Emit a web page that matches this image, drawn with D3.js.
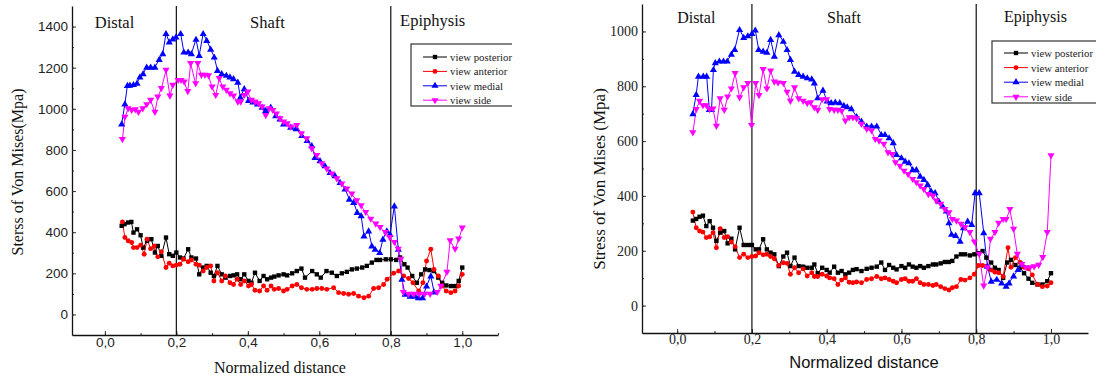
<!DOCTYPE html>
<html>
<head>
<meta charset="utf-8">
<script src="https://cdn.jsdelivr.net/npm/d3@7"></script>
<style>
  body { margin: 0; background: #fff; }
</style>
</head>
<body>
<div id="chart"></div>
<script>
// series shown in both panels
const seriesNames = ['view posterior', 'view anterior', 'view medial', 'view side'];
const seriesColors = ['#000000', '#ff0000', '#0000ff', '#ff00ff'];
const regionNames = ['Distal', 'Shaft', 'Epiphysis'];
const regionBounds = [0.2, 0.8];
const xTickValues = [0, 0.2, 0.4, 0.6, 0.8, 1.0];
const xTickLabels = ['0,0', '0,2', '0,4', '0,6', '0,8', '1,0'];
const leftYTicks = [0, 200, 400, 600, 800, 1000, 1200, 1400];
const rightYTicks = [0, 200, 400, 600, 800, 1000];

// left panel: [normalized distance, stress]
const leftPosterior = [[.047,431],[.055,439],[.065,447],[.074,450],[.08,398],[.09,414],[.1,385],[.107,325],[.118,358],[.13,366],[.14,301],[.148,333],[.158,285],[.171,374],[.18,293],[.19,285],[.2,301],[.21,277],[.22,272],[.233,317],[.242,277],[.255,272],[.264,195],[.275,228],[.285,236],[.296,203],[.305,187],[.315,236],[.327,195],[.337,179],[.35,187],[.36,190],[.37,195],[.38,171],[.39,195],[.402,163],[.41,154],[.42,203],[.433,163],[.444,187],[.454,171],[.465,179],[.474,184],[.486,190],[.5,195],[.51,190],[.524,200],[.537,211],[.55,223],[.56,179],[.58,211],[.593,195],[.604,179],[.62,211],[.635,203],[.649,187],[.663,200],[.677,207],[.691,219],[.705,223],[.72,228],[.733,236],[.747,252],[.76,265],[.77,265],[.786,268],[.8,268],[.815,265],[.826,277],[.838,244],[.847,228],[.86,187],[.873,154],[.885,195],[.896,219],[.908,216],[.92,211],[.933,179],[.944,154],[.955,141],[.968,138],[.98,138],[.99,163],[1.0,228]];
const leftAnterior = [[.049,450],[.056,374],[.065,358],[.075,350],[.08,325],[.09,325],[.1,337],[.11,293],[.118,366],[.128,320],[.138,333],[.148,280],[.158,305],[.171,228],[.18,249],[.19,236],[.2,240],[.21,244],[.22,268],[.233,256],[.242,265],[.255,244],[.264,240],[.275,211],[.285,228],[.296,236],[.305,163],[.315,203],[.327,163],[.337,187],[.35,154],[.36,146],[.37,171],[.38,146],[.39,163],[.402,138],[.41,146],[.42,118],[.433,114],[.444,138],[.454,118],[.465,138],[.474,122],[.486,126],[.5,114],[.51,122],[.524,138],[.537,146],[.55,130],[.565,122],[.58,122],[.593,126],[.607,126],[.621,122],[.64,130],[.654,106],[.668,102],[.682,98],[.696,102],[.71,89],[.725,81],[.738,89],[.752,126],[.766,130],[.78,146],[.79,171],[.808,200],[.822,211],[.836,187],[.85,175],[.862,154],[.878,114],[.89,154],[.9,260],[.912,317],[.921,219],[.933,187],[.943,138],[.955,114],[.968,106],[.98,114],[.99,138],[1.0,195]];
const leftMedial = [[.047,927],[.056,1024],[.063,1114],[.07,1115],[.08,1118],[.09,1125],[.098,1155],[.107,1171],[.117,1203],[.128,1203],[.14,1203],[.152,1240],[.162,1268],[.171,1366],[.18,1325],[.19,1340],[.199,1350],[.212,1366],[.221,1276],[.233,1276],[.242,1268],[.255,1338],[.264,1260],[.275,1366],[.285,1333],[.296,1290],[.306,1252],[.315,1187],[.327,1171],[.34,1163],[.35,1155],[.36,1147],[.372,1130],[.379,1057],[.39,1098],[.402,1041],[.414,1033],[.427,1024],[.44,1008],[.45,992],[.464,1008],[.478,967],[.49,951],[.5,927],[.52,911],[.535,903],[.551,870],[.566,846],[.579,821],[.588,764],[.602,748],[.616,723],[.63,691],[.644,675],[.658,642],[.672,610],[.684,561],[.696,545],[.706,496],[.717,480],[.725,382],[.738,406],[.747,333],[.756,317],[.769,301],[.778,366],[.789,406],[.798,390],[.81,528],[.821,317],[.831,171],[.84,98],[.854,89],[.868,89],[.877,81],[.889,81],[.9,138],[.912,187],[.921,110]];
const leftSide = [[.049,850],[.056,959],[.065,1000],[.075,992],[.085,995],[.094,983],[.106,1000],[.117,1020],[.128,1041],[.14,983],[.148,1057],[.158,1098],[.171,1187],[.182,1062],[.19,1114],[.205,1138],[.213,1138],[.222,1130],[.232,1084],[.24,1220],[.254,1122],[.26,1220],[.27,1163],[.28,1163],[.29,1160],[.3,1106],[.31,1065],[.32,1147],[.33,1106],[.34,1090],[.35,1073],[.36,1062],[.372,1033],[.38,1033],[.39,1065],[.4,1081],[.41,1041],[.42,1033],[.43,1024],[.44,1008],[.45,967],[.46,1000],[.47,992],[.48,975],[.49,951],[.5,935],[.51,927],[.52,911],[.537,919],[.55,878],[.565,854],[.579,805],[.593,773],[.607,732],[.621,707],[.635,683],[.649,659],[.663,634],[.677,610],[.691,585],[.705,553],[.717,528],[.73,496],[.744,463],[.758,439],[.77,423],[.785,398],[.797,374],[.81,350],[.821,317],[.828,268],[.835,107],[.85,98],[.865,98],[.88,98],[.895,98],[.91,98],[.93,107],[.94,137],[.957,205],[.966,358],[.98,317],[.99,366],[1.0,420]];

// right panel
const rightPosterior = [[.042,310],[.051,316],[.06,324],[.069,328],[.078,290],[.087,308],[.096,284],[.105,236],[.115,266],[.126,272],[.135,227],[.145,244],[.155,205],[.167,284],[.178,221],[.189,221],[.2,221],[.21,205],[.219,205],[.23,242],[.24,205],[.25,193],[.26,187],[.272,144],[.284,179],[.294,193],[.303,144],[.314,175],[.325,144],[.337,142],[.348,138],[.36,138],[.367,150],[.376,118],[.388,138],[.4,130],[.408,120],[.42,142],[.43,120],[.44,126],[.45,114],[.46,120],[.47,130],[.48,133],[.493,126],[.507,134],[.52,138],[.534,142],[.546,157],[.556,130],[.567,148],[.578,138],[.587,132],[.6,144],[.61,138],[.62,150],[.63,142],[.64,138],[.65,144],[.66,138],[.672,144],[.684,150],[.693,150],[.705,154],[.716,159],[.727,159],[.736,163],[.747,179],[.759,187],[.77,187],[.783,183],[.795,187],[.806,191],[.817,199],[.827,175],[.84,157],[.85,138],[.86,130],[.872,101],[.883,157],[.893,167],[.905,148],[.917,138],[.928,118],[.94,98],[.95,83],[.964,77],[.977,77],[.99,89],[1.0,118]];
const rightAnterior = [[.042,341],[.051,284],[.06,272],[.069,268],[.078,248],[.087,251],[.096,266],[.105,211],[.115,280],[.126,248],[.135,251],[.145,232],[.155,215],[.167,175],[.178,187],[.189,175],[.2,179],[.21,181],[.219,193],[.23,185],[.24,187],[.25,179],[.26,171],[.272,146],[.284,156],[.294,154],[.303,114],[.314,138],[.325,120],[.337,134],[.348,108],[.36,120],[.367,106],[.376,106],[.388,114],[.4,108],[.408,101],[.42,98],[.43,77],[.44,93],[.45,101],[.46,85],[.47,83],[.48,86],[.493,83],[.507,95],[.52,98],[.534,106],[.546,98],[.556,101],[.567,95],[.578,89],[.587,83],[.6,95],[.61,98],[.62,89],[.63,89],[.64,98],[.65,83],[.66,77],[.672,77],[.684,73],[.693,77],[.705,69],[.716,62],[.727,57],[.736,65],[.747,69],[.759,95],[.77,93],[.783,101],[.795,114],[.806,146],[.817,146],[.827,144],[.84,130],[.85,122],[.86,120],[.872,106],[.885,211],[.893,140],[.905,175],[.917,157],[.928,140],[.94,134],[.95,112],[.964,77],[.977,69],[.99,71],[1.0,83]];
const rightMedial = [[.042,700],[.051,770],[.057,837],[.07,837],[.079,837],[.086,715],[.092,715],[.097,861],[.102,886],[.113,892],[.124,892],[.134,892],[.145,917],[.154,934],[.167,1007],[.178,978],[.189,984],[.2,993],[.209,1005],[.218,934],[.23,928],[.24,924],[.25,971],[.26,910],[.272,988],[.284,964],[.294,934],[.303,898],[.314,855],[.325,843],[.337,837],[.348,831],[.36,827],[.367,812],[.376,758],[.39,786],[.401,746],[.412,740],[.423,742],[.435,740],[.446,730],[.455,725],[.466,718],[.48,689],[.493,673],[.507,655],[.52,655],[.534,655],[.546,624],[.556,624],[.567,612],[.578,594],[.587,551],[.6,539],[.61,527],[.62,521],[.63,496],[.64,496],[.65,472],[.66,460],[.67,442],[.679,418],[.69,412],[.7,381],[.71,363],[.72,345],[.727,302],[.734,260],[.745,256],[.757,235],[.766,284],[.777,308],[.788,296],[.797,412],[.808,412],[.82,266],[.83,144],[.84,89],[.855,96],[.868,83],[.88,71],[.888,83],[.9,108],[.912,132],[.923,150]];
const rightSide = [[.042,630],[.051,715],[.06,745],[.069,729],[.078,729],[.087,715],[.096,717],[.105,654],[.115,754],[.126,712],[.135,761],[.145,790],[.155,846],[.167,758],[.178,794],[.189,810],[.199,657],[.21,810],[.219,766],[.23,861],[.24,790],[.25,855],[.26,815],[.27,812],[.284,810],[.294,778],[.303,745],[.314,794],[.325,754],[.337,745],[.348,737],[.357,740],[.367,721],[.376,712],[.388,751],[.4,751],[.408,715],[.42,712],[.43,712],[.44,709],[.45,673],[.46,685],[.47,685],[.48,681],[.493,661],[.507,643],[.52,637],[.53,606],[.54,600],[.553,588],[.564,557],[.575,551],[.584,521],[.596,508],[.607,490],[.618,478],[.63,460],[.64,448],[.65,436],[.66,423],[.672,405],[.684,399],[.693,381],[.705,369],[.716,350],[.727,338],[.736,314],[.747,308],[.759,296],[.77,284],[.783,266],[.795,232],[.808,187],[.82,71],[.83,138],[.838,242],[.85,266],[.86,300],[.872,314],[.88,314],[.89,350],[.9,278],[.91,187],[.922,150],[.933,138],[.944,138],[.955,141],[.967,147],[.978,175],[.99,266],[1.0,546]];

const SERIF = '"Liberation Serif", "Times New Roman", serif';
const SANS = '"Liberation Sans", Arial, sans-serif';

const panels = [
  {
    series: [leftPosterior, leftAnterior, leftMedial, leftSide],
    yTicks: leftYTicks,
    left: 72, right: 498, top: 6, bottom: 335, clipRight: 512,
    xDomain: [-0.092, 1.1], yDomain: [-100, 1500],
    tickFont: SANS, tickSize: 13.5, xPad: 2, yPad: 4,
    xTitle: 'Normalized distance', xTitleFont: SERIF, xTitleSize: 16, xTitleX: 280, xTitleY: 373,
    yTitle: 'Sterss of Von Mises(Mpa)', yTitleX: 23, yTitleY: 172, yTitleSize: 16,
    regionAt: [-0.028, 0.406, 0.826], regionY: [28, 28, 26], regionSize: 16.5,
    legend: { x: 411, y: 44, w: 110, h: 62, row0: 57, rowStep: 14.4, textX: 39 }
  },
  {
    series: [rightPosterior, rightAnterior, rightMedial, rightSide],
    yTicks: rightYTicks,
    left: 642, right: 1088, top: 4, bottom: 333, clipRight: 1096,
    xDomain: [-0.094, 1.099], yDomain: [-100, 1100],
    tickFont: SERIF, tickSize: 14, xPad: 1, yPad: 4,
    xTitle: 'Normalized distance', xTitleFont: SANS, xTitleSize: 16.5, xTitleX: 864, xTitleY: 368,
    yTitle: 'Stress of Von Mises (Mpa)', yTitleX: 605, yTitleY: 179, yTitleSize: 17,
    regionAt: [0.0, 0.401, 0.874], regionY: [23, 23, 22], regionSize: 16,
    legend: { x: 992, y: 41, w: 115, h: 62, row0: 53, rowStep: 14.6, textX: 39 }
  }
];

const svg = d3.select('#chart')
  .append('svg')
  .attr('width', 1096)
  .attr('height', 380);

function marker(i) {
  if (i === 0) return d3.symbol().type(d3.symbolSquare).size(19)();
  if (i === 1) return d3.symbol().type(d3.symbolCircle).size(19)();
  return d3.symbol().type(d3.symbolTriangle).size(22)();
}

panels.forEach((p, pi) => {
  const x = d3.scaleLinear().domain(p.xDomain).range([p.left, p.right]);
  const y = d3.scaleLinear().domain(p.yDomain).range([p.bottom, p.top]);

  svg.append('clipPath').attr('id', 'clip' + pi)
    .append('rect').attr('x', 0).attr('y', 0)
    .attr('width', p.clipRight).attr('height', 380);

  const g = svg.append('g').attr('clip-path', `url(#clip${pi})`);

  // minor ticks, inside the frame
  const yMinor = d3.range(p.yDomain[0] + 100, p.yDomain[1], 100);
  const xMinor = d3.range(-0.1, 1.11, 0.1).filter(v => v >= p.xDomain[0] && v <= p.xDomain[1]);

  g.append('g')
    .attr('transform', `translate(${p.left},0)`)
    .call(d3.axisLeft(y).tickValues(yMinor).tickSize(-2).tickFormat(''))
    .call(a => a.select('.domain').remove());
  g.append('g')
    .attr('transform', `translate(0,${p.bottom})`)
    .call(d3.axisBottom(x).tickValues(xMinor).tickSize(-2).tickFormat(''))
    .call(a => a.select('.domain').remove());

  const yAxis = g.append('g')
    .attr('transform', `translate(${p.left},0)`)
    .call(d3.axisLeft(y).tickValues(p.yTicks).tickSize(-4).tickSizeOuter(0).tickPadding(p.yPad)
      .tickFormat(d3.format('d')));
  const xAxis = g.append('g')
    .attr('transform', `translate(0,${p.bottom})`)
    .call(d3.axisBottom(x).tickValues(xTickValues).tickSize(-4).tickSizeOuter(0).tickPadding(p.xPad)
      .tickFormat((d, i) => xTickLabels[i]));

  [yAxis, xAxis].forEach(a => {
    a.selectAll('text').attr('font-family', p.tickFont).attr('font-size', p.tickSize).attr('fill', '#222');
    a.select('.domain').attr('stroke', '#111').attr('stroke-width', 1.3);
  });
  g.selectAll('.tick line').attr('stroke', '#333');

  // region boundaries
  g.selectAll('.bound')
    .data(regionBounds)
    .join('line')
    .attr('x1', d => x(d)).attr('x2', d => x(d))
    .attr('y1', p.top).attr('y2', p.bottom)
    .attr('stroke', '#111').attr('stroke-width', 1.2);

  g.selectAll('.region')
    .data(regionNames)
    .join('text')
    .attr('x', (d, i) => x(p.regionAt[i]))
    .attr('y', (d, i) => p.regionY[i])
    .attr('font-family', SERIF)
    .attr('font-size', p.regionSize)
    .attr('fill', '#111')
    .text(d => d);

  // series
  const line = d3.line().x(d => x(d[0])).y(d => y(d[1]));
  p.series.forEach((data, si) => {
    g.append('path')
      .datum(data)
      .attr('fill', 'none')
      .attr('stroke', seriesColors[si])
      .attr('stroke-width', 1)
      .attr('d', line);
  });
  p.series.forEach((data, si) => {
    g.append('g').selectAll('path')
      .data(data)
      .join('path')
      .attr('d', marker(si))
      .attr('transform', d => `translate(${x(d[0])},${y(d[1]) + (si >= 2 ? (si === 2 ? 0.5 : -0.5) : 0)})` + (si === 3 ? ' rotate(180)' : ''))
      .attr('fill', seriesColors[si]);
  });

  // titles
  g.append('text')
    .attr('x', p.xTitleX).attr('y', p.xTitleY)
    .attr('text-anchor', 'middle')
    .attr('font-family', p.xTitleFont)
    .attr('font-size', p.xTitleSize)
    .attr('fill', '#111')
    .text(p.xTitle);

  g.append('text')
    .attr('transform', `translate(${p.yTitleX},${p.yTitleY}) rotate(-90)`)
    .attr('text-anchor', 'middle')
    .attr('font-family', SERIF)
    .attr('font-size', p.yTitleSize)
    .attr('fill', '#111')
    .text(p.yTitle);

  // legend (box is cut by the panel edge, text kept whole)
  const L = p.legend;
  g.append('rect')
    .attr('x', L.x).attr('y', L.y).attr('width', L.w).attr('height', L.h)
    .attr('fill', '#fff').attr('stroke', '#333').attr('stroke-width', 1.2);
  const lg = svg.append('g');
  seriesNames.forEach((name, si) => {
    const ry = L.row0 + si * L.rowStep;
    lg.append('line')
      .attr('x1', L.x + 12).attr('x2', L.x + 36)
      .attr('y1', ry).attr('y2', ry)
      .attr('stroke', seriesColors[si]).attr('stroke-width', 1);
    lg.append('path')
      .attr('d', marker(si))
      .attr('transform', `translate(${L.x + 24},${ry})` + (si === 3 ? ' rotate(180)' : ''))
      .attr('fill', seriesColors[si]);
    lg.append('text')
      .attr('x', L.x + L.textX).attr('y', ry + 4)
      .attr('font-family', SERIF)
      .attr('font-size', 10.8)
      .attr('fill', '#222')
      .text(name);
  });
});
</script>
</body>
</html>
